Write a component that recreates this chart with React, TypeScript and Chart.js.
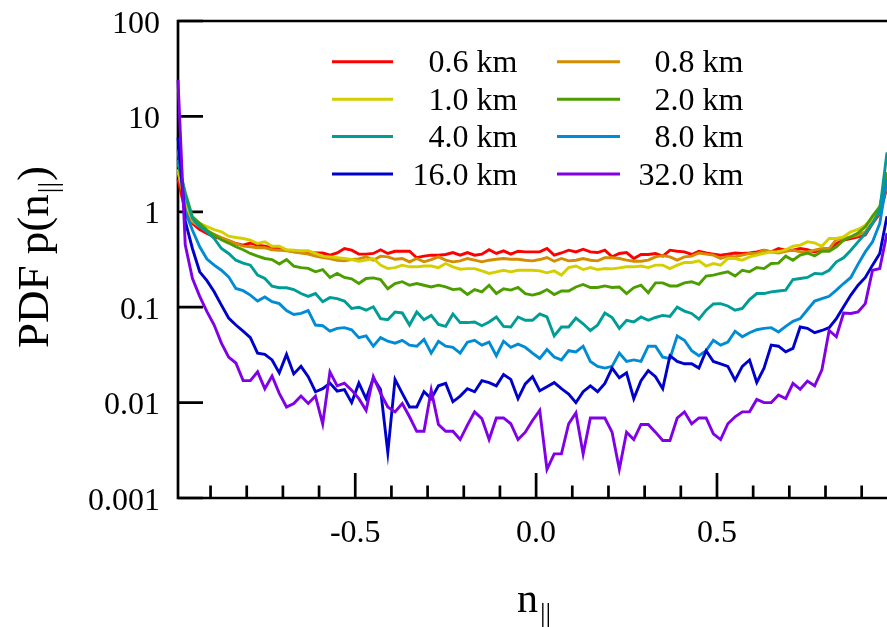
import React, { useEffect, useRef } from "react";
import { Chart, registerables } from "chart.js";

Chart.register(...registerables);

const W = 887;
const H = 627;
const FONT = '"Liberation Serif", "Times New Roman", serif';

// Bin centres of n_parallel (bins of width 0.02 from -1 to 1)
const BIN_CENTERS: number[] = Array.from({ length: 100 }, (_, i) => Number((-0.99 + 0.02 * i).toFixed(2)));

const SERIES_LABELS = ["0.6 km", "0.8 km", "1.0 km", "2.0 km", "4.0 km", "8.0 km", "16.0 km", "32.0 km"];
const SERIES_COLORS = [
  "rgb(255,0,0)",
  "rgb(212,140,0)",
  "rgb(212,208,0)",
  "rgb(76,158,0)",
  "rgb(0,156,150)",
  "rgb(0,140,212)",
  "rgb(0,0,204)",
  "rgb(128,0,232)",
];

const PDF_06 = [
  2.2, 1.0, 0.755, 0.65, 0.592, 0.547, 0.525, 0.5, 0.465, 0.447,
  0.47, 0.447, 0.436, 0.42, 0.41, 0.396, 0.38, 0.38, 0.378, 0.37,
  0.37, 0.351, 0.37, 0.412, 0.396, 0.36, 0.36, 0.366, 0.4, 0.366,
  0.386, 0.386, 0.386, 0.33, 0.343, 0.351, 0.351, 0.357, 0.374, 0.351,
  0.374, 0.351, 0.36, 0.4, 0.366, 0.39, 0.36, 0.386, 0.38, 0.38,
  0.38, 0.412, 0.351, 0.37, 0.396, 0.38, 0.405, 0.38, 0.374, 0.396,
  0.337, 0.366, 0.374, 0.324, 0.357, 0.357, 0.366, 0.343, 0.396, 0.386,
  0.38, 0.357, 0.386, 0.37, 0.36, 0.351, 0.36, 0.37, 0.366, 0.37,
  0.38, 0.396, 0.38, 0.412, 0.396, 0.396, 0.412, 0.4, 0.38, 0.405,
  0.405, 0.465, 0.504, 0.525, 0.547, 0.57, 0.755, 0.96, 1.8, 3.0,
];
const PDF_08 = [
  2.6, 1.2, 0.785, 0.7, 0.63, 0.58, 0.538, 0.5, 0.465, 0.436,
  0.43, 0.42, 0.42, 0.4, 0.396, 0.39, 0.38, 0.37, 0.36, 0.343,
  0.332, 0.324, 0.311, 0.306, 0.316, 0.32, 0.337, 0.311, 0.343, 0.337,
  0.318, 0.324, 0.299, 0.324, 0.299, 0.316, 0.337, 0.311, 0.299, 0.306,
  0.324, 0.311, 0.299, 0.311, 0.318, 0.324, 0.318, 0.318, 0.311, 0.306,
  0.316, 0.332, 0.303, 0.324, 0.306, 0.311, 0.324, 0.311, 0.306, 0.33,
  0.33, 0.324, 0.311, 0.303, 0.303, 0.311, 0.337, 0.347, 0.337, 0.311,
  0.337, 0.343, 0.37, 0.36, 0.351, 0.324, 0.343, 0.337, 0.351, 0.366,
  0.366, 0.396, 0.38, 0.37, 0.386, 0.396, 0.38, 0.38, 0.396, 0.412,
  0.412, 0.513, 0.525, 0.547, 0.57, 0.617, 0.785, 1.0, 2.0, 3.5,
];
const PDF_10 = [
  2.8, 1.3, 0.82, 0.755, 0.7, 0.65, 0.617, 0.555, 0.538, 0.525,
  0.504, 0.465, 0.484, 0.436, 0.436, 0.4, 0.396, 0.39, 0.39, 0.366,
  0.343, 0.337, 0.33, 0.324, 0.316, 0.303, 0.311, 0.324, 0.276, 0.254,
  0.26, 0.276, 0.265, 0.265, 0.27, 0.27, 0.26, 0.287, 0.265, 0.25,
  0.254, 0.254, 0.24, 0.226, 0.235, 0.244, 0.235, 0.244, 0.244, 0.244,
  0.24, 0.229, 0.24, 0.217, 0.26, 0.27, 0.248, 0.26, 0.248, 0.254,
  0.252, 0.258, 0.265, 0.265, 0.27, 0.26, 0.276, 0.276, 0.254, 0.276,
  0.294, 0.294, 0.306, 0.27, 0.287, 0.276, 0.324, 0.324, 0.311, 0.337,
  0.351, 0.366, 0.38, 0.38, 0.4, 0.436, 0.447, 0.484, 0.473, 0.436,
  0.525, 0.525, 0.547, 0.617, 0.653, 0.725, 0.85, 1.04, 2.0, 4.0,
];
const PDF_20 = [
  3.2, 1.6, 0.886, 0.755, 0.642, 0.57, 0.51, 0.47, 0.43, 0.4,
  0.366, 0.343, 0.324, 0.316, 0.283, 0.316, 0.27, 0.26, 0.255, 0.235,
  0.248, 0.205, 0.226, 0.205, 0.198, 0.177, 0.2, 0.203, 0.195, 0.156,
  0.177, 0.185, 0.17, 0.177, 0.17, 0.163, 0.17, 0.163, 0.153, 0.156,
  0.136, 0.153, 0.145, 0.17, 0.139, 0.156, 0.151, 0.161, 0.139, 0.134,
  0.14, 0.153, 0.136, 0.148, 0.148, 0.163, 0.173, 0.161, 0.161, 0.167,
  0.161, 0.163, 0.139, 0.16, 0.17, 0.142, 0.18, 0.18, 0.167, 0.167,
  0.18, 0.185, 0.174, 0.212, 0.217, 0.226, 0.235, 0.212, 0.244, 0.235,
  0.26, 0.254, 0.287, 0.29, 0.343, 0.311, 0.351, 0.37, 0.345, 0.386,
  0.386, 0.43, 0.504, 0.547, 0.6, 0.696, 0.9, 1.13, 2.6, 5.0,
];
const PDF_40 = [
  3.5, 1.5, 0.85, 0.7, 0.617, 0.525, 0.412, 0.366, 0.311, 0.29,
  0.276, 0.217, 0.2, 0.166, 0.16, 0.16, 0.153, 0.139, 0.13, 0.139,
  0.114, 0.126, 0.123, 0.116, 0.097, 0.1, 0.093, 0.101, 0.076, 0.074,
  0.089, 0.087, 0.065, 0.089, 0.074, 0.082, 0.066, 0.063, 0.085, 0.069,
  0.069, 0.07, 0.064, 0.07, 0.079, 0.063, 0.062, 0.079, 0.073, 0.073,
  0.085, 0.079, 0.05, 0.062, 0.062, 0.077, 0.067, 0.057, 0.065, 0.087,
  0.078, 0.06, 0.073, 0.07, 0.079, 0.073, 0.078, 0.082, 0.08, 0.1,
  0.091, 0.086, 0.075, 0.093, 0.108, 0.109, 0.103, 0.093, 0.097, 0.12,
  0.139, 0.139, 0.145, 0.148, 0.151, 0.195, 0.2, 0.205, 0.226, 0.223,
  0.244, 0.299, 0.33, 0.396, 0.484, 0.592, 0.755, 1.04, 4.2, 8.0,
];
const PDF_80 = [
  4.5, 1.0, 0.64, 0.43, 0.32, 0.276, 0.244, 0.208, 0.157, 0.149,
  0.134, 0.116, 0.128, 0.114, 0.109, 0.092, 0.084, 0.086, 0.092, 0.065,
  0.064, 0.056, 0.06, 0.061, 0.058, 0.048, 0.05, 0.039, 0.048, 0.044,
  0.042, 0.045, 0.04, 0.039, 0.046, 0.033, 0.044, 0.039, 0.038, 0.033,
  0.043, 0.045, 0.04, 0.043, 0.031, 0.044, 0.038, 0.041, 0.038, 0.033,
  0.029, 0.036, 0.03, 0.028, 0.035, 0.034, 0.039, 0.027, 0.024, 0.023,
  0.024, 0.033, 0.027, 0.028, 0.027, 0.039, 0.039, 0.03, 0.029, 0.05,
  0.045, 0.035, 0.031, 0.035, 0.045, 0.04, 0.043, 0.056, 0.049, 0.054,
  0.058, 0.06, 0.061, 0.055, 0.063, 0.071, 0.076, 0.094, 0.116, 0.123,
  0.13, 0.151, 0.177, 0.205, 0.283, 0.38, 0.484, 0.755, 2.2, 8.0,
];
const PDF_160 = [
  6.0, 0.8, 0.41, 0.235, 0.19, 0.145, 0.105, 0.077, 0.065, 0.056,
  0.048, 0.033, 0.032, 0.028, 0.0205, 0.032, 0.02, 0.024, 0.0187, 0.013,
  0.014, 0.016, 0.0132, 0.0137, 0.01, 0.016, 0.011, 0.018, 0.0137, 0.003,
  0.0175, 0.0125, 0.009, 0.009, 0.013, 0.011, 0.015, 0.0159, 0.0102, 0.0117,
  0.014, 0.013, 0.017, 0.0162, 0.015, 0.0197, 0.0175, 0.011, 0.0157, 0.0187,
  0.0133, 0.0147, 0.0162, 0.014, 0.0123, 0.01, 0.013, 0.015, 0.013, 0.0159,
  0.023, 0.0182, 0.0205, 0.011, 0.017, 0.0216, 0.0187, 0.014, 0.031, 0.027,
  0.0255, 0.0255, 0.023, 0.035, 0.027, 0.0255, 0.024, 0.0172, 0.024, 0.028,
  0.0163, 0.023, 0.04, 0.039, 0.034, 0.037, 0.062, 0.06, 0.054, 0.057,
  0.061, 0.076, 0.101, 0.134, 0.17, 0.205, 0.276, 0.366, 0.9, 10,
];
const PDF_320 = [
  24, 0.45, 0.2, 0.13, 0.09, 0.065, 0.042, 0.03, 0.026, 0.017,
  0.017, 0.021, 0.014, 0.019, 0.0125, 0.009, 0.0098, 0.0117, 0.0098, 0.0117,
  0.006, 0.021, 0.015, 0.016, 0.0135, 0.011, 0.0083, 0.0187, 0.0125, 0.009,
  0.008, 0.0098, 0.0071, 0.005, 0.005, 0.0135, 0.0059, 0.005, 0.005, 0.0041,
  0.0058, 0.008, 0.0068, 0.0041, 0.0069, 0.0069, 0.006, 0.0041, 0.0049, 0.0065,
  0.0083, 0.002, 0.0029, 0.0029, 0.006, 0.0078, 0.0029, 0.0069, 0.0069, 0.0069,
  0.0049, 0.002, 0.0049, 0.0041, 0.0059, 0.0059, 0.0049, 0.004, 0.004, 0.0069,
  0.008, 0.006, 0.0069, 0.0069, 0.0047, 0.0041, 0.006, 0.0071, 0.008, 0.008,
  0.0108, 0.01, 0.01, 0.012, 0.011, 0.0159, 0.0138, 0.0168, 0.015, 0.022,
  0.057, 0.049, 0.087, 0.086, 0.089, 0.109, 0.244, 0.254, 0.6, 20,
];

const SERIES_VALUES = [PDF_06, PDF_08, PDF_10, PDF_20, PDF_40, PDF_80, PDF_160, PDF_320];

const Y_TICKS = [100, 10, 1, 0.1, 0.01, 0.001];
const Y_TICK_LABELS = ["100", "10", "1", "0.1", "0.01", "0.001"];
const X_MAJOR = [-0.5, 0, 0.5];
const X_MAJOR_LABELS = ["-0.5", "0.0", "0.5"];
const X_MINOR = [-0.9, -0.8, -0.7, -0.6, -0.4, -0.3, -0.2, -0.1, 0.1, 0.2, 0.3, 0.4, 0.6, 0.7, 0.8, 0.9];

const X_MIN = -0.99;
const X_MAX = 0.97;
const Y_MIN = 0.001;
const Y_MAX = 100;

const decorPlugin = {
  id: "decor",
  beforeDatasetsDraw(chart: any) {
    const { ctx, chartArea: ca } = chart;
    const xs = chart.scales.x;
    const ys = chart.scales.y;
    ctx.save();
    ctx.strokeStyle = "#000";
    ctx.lineWidth = 2.7;
    ctx.lineCap = "butt";
    // frame (left, bottom, top)
    ctx.beginPath();
    ctx.moveTo(W + 2, ca.top);
    ctx.lineTo(ca.left, ca.top);
    ctx.lineTo(ca.left, ca.bottom);
    ctx.lineTo(W + 2, ca.bottom);
    ctx.stroke();
    // y ticks (inward)
    ctx.beginPath();
    Y_TICKS.forEach((v) => {
      const py = ys.getPixelForValue(v);
      ctx.moveTo(ca.left, py);
      ctx.lineTo(ca.left + 25, py);
    });
    // x ticks (inward)
    X_MAJOR.forEach((v) => {
      const px = xs.getPixelForValue(v);
      ctx.moveTo(px, ca.bottom);
      ctx.lineTo(px, ca.bottom - 25);
    });
    X_MINOR.forEach((v) => {
      const px = xs.getPixelForValue(v);
      ctx.moveTo(px, ca.bottom);
      ctx.lineTo(px, ca.bottom - 12.5);
    });
    ctx.stroke();
    ctx.restore();
  },
  afterDraw(chart: any) {
    const { ctx, chartArea: ca } = chart;
    const xs = chart.scales.x;
    const ys = chart.scales.y;
    ctx.save();
    // tick labels
    ctx.fillStyle = "#000";
    ctx.font = `32px ${FONT}`;
    ctx.textBaseline = "alphabetic";
    ctx.textAlign = "right";
    Y_TICKS.forEach((v, i) => {
      ctx.fillText(Y_TICK_LABELS[i], 160, ys.getPixelForValue(v) + 11.5);
    });
    ctx.textAlign = "center";
    X_MAJOR.forEach((v, i) => {
      ctx.fillText(X_MAJOR_LABELS[i], xs.getPixelForValue(v), ca.bottom + 44);
    });

    // x title: n with subscript ||
    ctx.textAlign = "left";
    ctx.font = `42px ${FONT}`;
    ctx.fillText("n", 517, 612);
    ctx.font = `28px ${FONT}`;
    ctx.fillText("||", 540, 622);

    // y title: PDF p(n||)
    ctx.save();
    ctx.translate(48, 348);
    ctx.rotate(-Math.PI / 2);
    ctx.textAlign = "left";
    ctx.font = `45px ${FONT}`;
    const main = "PDF p(n";
    ctx.fillText(main, 0, 0);
    let off = ctx.measureText(main).width;
    ctx.font = `28px ${FONT}`;
    ctx.fillText("||", off + 1, 9);
    off += ctx.measureText("||").width + 2;
    ctx.font = `45px ${FONT}`;
    ctx.fillText(")", off, 0);
    ctx.restore();

    // legend (2 columns, right-aligned labels)
    const colLine = [
      [332, 393],
      [557, 620],
    ];
    const colText = [517.5, 743.5];
    ctx.font = `32px ${FONT}`;
    ctx.textAlign = "right";
    chart.data.datasets.forEach((ds: any, k: number) => {
      const col = k % 2;
      const row = Math.floor(k / 2);
      const yRow = 61.7 + 37.45 * row;
      ctx.strokeStyle = ds.borderColor;
      ctx.lineWidth = 3;
      ctx.beginPath();
      ctx.moveTo(colLine[col][0], yRow);
      ctx.lineTo(colLine[col][1], yRow);
      ctx.stroke();
      ctx.fillStyle = "#000";
      ctx.fillText(ds.label, colText[col], yRow + 10.5);
    });
    ctx.restore();
  },
};

export default function App() {
  const ref = useRef<HTMLCanvasElement | null>(null);
  useEffect(() => {
    const canvas = ref.current;
    if (!canvas) return;
    const datasets = SERIES_LABELS.map((label, k) => ({
      label,
      data: BIN_CENTERS.map((x, i) => ({ x, y: SERIES_VALUES[k][i] })),
      borderColor: SERIES_COLORS[k],
      backgroundColor: SERIES_COLORS[k],
      borderWidth: 2.9,
      pointRadius: 0,
      tension: 0,
      fill: false,
      clip: false,
      order: SERIES_LABELS.length - k,
    }));
    const chart = new Chart(canvas, {
      type: "line",
      data: { datasets },
      options: {
        responsive: false,
        animation: false,
        devicePixelRatio: 1,
        layout: { padding: { top: 21, left: 0, right: 0, bottom: 0 } },
        plugins: { legend: { display: false }, tooltip: { enabled: false } },
        scales: {
          x: {
            type: "linear",
            min: X_MIN,
            max: X_MAX,
            grid: { display: false },
            border: { display: false },
            ticks: { display: false },
            afterFit: (s: any) => {
              s.height = H - 498;
            },
          },
          y: {
            type: "logarithmic",
            min: Y_MIN,
            max: Y_MAX,
            grid: { display: false },
            border: { display: false },
            ticks: { display: false },
            afterFit: (s: any) => {
              s.width = 178;
            },
          },
        },
      },
      plugins: [decorPlugin],
    });
    return () => chart.destroy();
  }, []);
  return (
    <div style={{ position: "absolute", left: 0, top: 0, width: W, height: H, background: "#fff" }}>
      <canvas ref={ref} width={W} height={H} style={{ width: W, height: H, display: "block" }} />
    </div>
  );
}
